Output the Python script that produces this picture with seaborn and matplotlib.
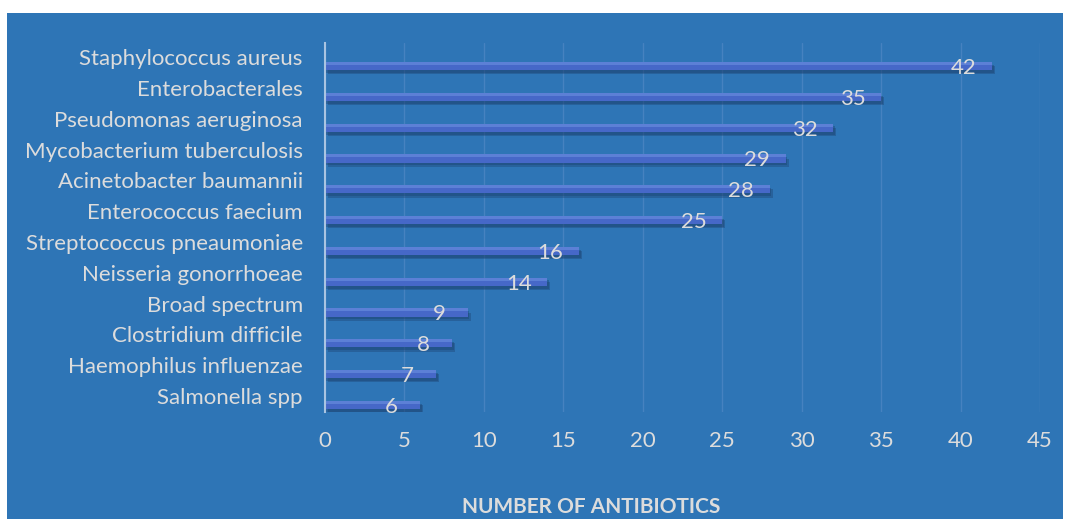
import matplotlib
matplotlib.use("Agg")
import matplotlib.pyplot as plt
import matplotlib.patheffects as pe
from matplotlib.patches import Rectangle
import numpy as np
import pandas as pd
import seaborn as sns

# Pathogens and number of antibiotics in development
pathogens = [
    "Staphylococcus aureus", "Enterobacterales", "Pseudomonas aeruginosa",
    "Mycobacterium tuberculosis", "Acinetobacter baumannii", "Enterococcus faecium",
    "Streptococcus pneaumoniae", "Neisseria gonorrhoeae", "Broad spectrum",
    "Clostridium difficile", "Haemophilus influenzae", "Salmonella spp",
]
counts = [42, 35, 32, 29, 28, 25, 16, 14, 9, 8, 7, 6]
x_ticks = [0, 5, 10, 15, 20, 25, 30, 35, 40, 45]

panel = "#2E75B6"
text_col = "#DCDCDC"
bar_col = "#4668C8"

sns.set_theme(style="white")
plt.rcParams["font.family"] = ["Lato", "DejaVu Sans"]

W, H = 1068, 519
fig = plt.figure(figsize=(W / 100, H / 100), dpi=100, facecolor="white")
fig.patches.append(Rectangle((7 / W, 0), (1063 - 7) / W, (519 - 13) / H,
                             transform=fig.transFigure, facecolor=panel,
                             edgecolor="none", zorder=-10))

ax = fig.add_axes([325 / W, 1 - 412 / H, (1040 - 325) / W, (412 - 43) / H])
ax.set_facecolor(panel)

df = pd.DataFrame({"pathogen": pathogens, "count": counts})
sns.barplot(data=df, x="count", y="pathogen", orient="h", color=bar_col,
            width=0.27, saturation=1, ax=ax, zorder=3)

for patch in ax.patches:
    patch.set_edgecolor("none")
    patch.set_path_effects([
        pe.SimplePatchShadow(offset=(2, -3), shadow_rgbFace="#1A3D6A", alpha=0.35),
        pe.SimplePatchShadow(offset=(1, -2), shadow_rgbFace="#1A3D6A", alpha=0.35),
        pe.Normal(),
    ])

# lighter top edge on each bar
for i, v in enumerate(counts):
    ax.barh(i - 0.085, v, height=0.1, color="#5C80D6", zorder=4, linewidth=0)

for i, v in enumerate(counts):
    ax.text(v - 1.8, i + 0.06, str(v), ha="center", va="center", color=text_col,
            fontsize=16, zorder=5)

ax.set_xlim(0, 45)
ax.set_ylim(11.23, -0.75)
ax.set_xticks(x_ticks)
ax.set_xticklabels([str(t) for t in x_ticks], color=text_col, fontsize=16)
ax.set_yticks(np.arange(len(pathogens)) - 0.29)
ax.set_yticklabels(pathogens, color=text_col, fontsize=16)
ax.tick_params(axis="x", length=0, pad=14)
ax.tick_params(axis="y", length=0, pad=16)
ax.set_xlabel("")
ax.set_ylabel("")

ax.grid(axis="x", color="#4682C0", linewidth=1, zorder=0)
ax.set_axisbelow(True)
for s in ["top", "right", "bottom"]:
    ax.spines[s].set_visible(False)
ax.spines["left"].set_color("#A9C4E2")
ax.spines["left"].set_linewidth(1.5)
ax.spines["left"].set_zorder(6)

fig.text(591 / W, 1 - 507 / H, "NUMBER OF ANTIBIOTICS", ha="center", va="center",
         color=text_col, fontsize=15, fontweight="bold")

fig.savefig("out.png", dpi=100, facecolor="white")
